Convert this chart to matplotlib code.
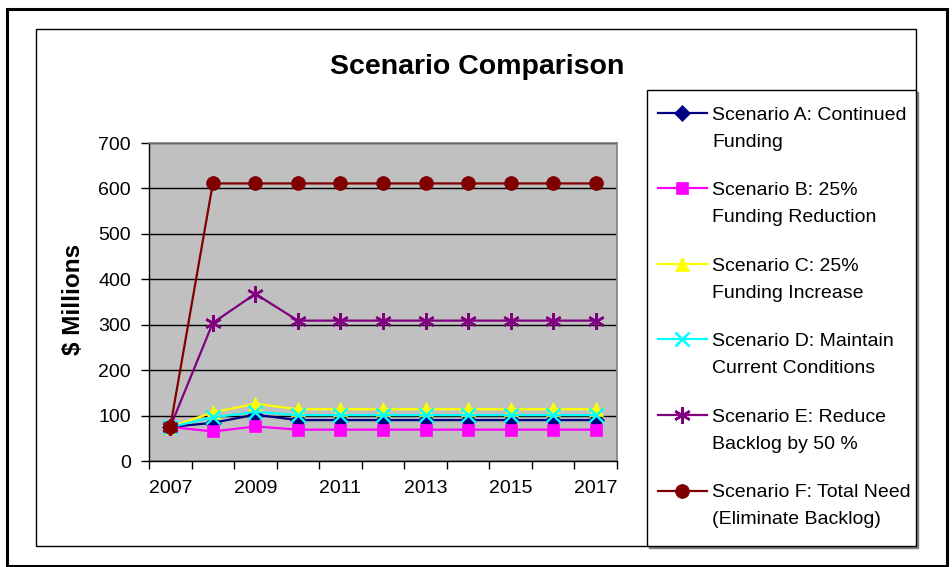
import matplotlib
matplotlib.use("Agg")
import matplotlib.pyplot as plt
from matplotlib.patches import Rectangle
import numpy as np

plt.rcParams['font.family'] = ['Liberation Sans', 'DejaVu Sans']

years = [2007, 2008, 2009, 2010, 2011, 2012, 2013, 2014, 2015, 2016, 2017]
scenario_a = [75, 84, 102, 90, 90, 90, 90, 90, 90, 90, 90]
scenario_b = [75, 65, 76, 69, 69, 69, 69, 69, 69, 69, 69]
scenario_c = [75, 107, 126, 114, 114, 114, 114, 114, 114, 114, 114]
scenario_d = [75, 96, 108, 101, 101, 101, 101, 101, 101, 101, 101]
scenario_e = [75, 304, 368, 309, 309, 309, 309, 309, 309, 309, 309]
scenario_f = [75, 611, 611, 611, 611, 611, 611, 611, 611, 611, 611]
labels = [
    "Scenario A: Continued\nFunding",
    "Scenario B: 25%\nFunding Reduction",
    "Scenario C: 25%\nFunding Increase",
    "Scenario D: Maintain\nCurrent Conditions",
    "Scenario E: Reduce\nBacklog by 50 %",
    "Scenario F: Total Need\n(Eliminate Backlog)",
]
title = "Scenario Comparison"
ylabel = "$ Millions"

W, H = 952, 567
fig = plt.figure(figsize=(W / 100, H / 100), dpi=100)

def fx(px):
    return px / W

def fy(py):
    return 1 - py / H

# frames
fig.add_artist(Rectangle((fx(7), fy(566)), fx(947) - fx(7), fy(9) - fy(566),
                         transform=fig.transFigure, fill=False, ec='black', lw=2.2))
fig.add_artist(Rectangle((fx(36), fy(546)), fx(916) - fx(36), fy(29) - fy(546),
                         transform=fig.transFigure, fill=False, ec='black', lw=1.0))

ax = fig.add_axes([fx(149), fy(461), fx(617) - fx(149), fy(143) - fy(461)])
ax.set_facecolor('#C0C0C0')

x = np.arange(len(years))
series = [
    (scenario_a, '#000080', 'D', 8, 'none'),
    (scenario_b, '#FF00FF', 's', 9, 'none'),
    (scenario_c, '#FFFF00', '^', 10, 'none'),
    (scenario_d, '#00FFFF', 'x', 10, None),
    (scenario_e, '#800080', (6, 2, 0), 12, None),
    (scenario_f, '#800000', 'o', 10, 'none'),
]
handles = []
for (vals, col, mk, ms, mec), lab in zip(series, labels):
    kw = dict(color=col, marker=mk, markersize=ms, lw=1.6, label=lab, zorder=3)
    if mec == 'none':
        kw['markeredgecolor'] = col
        kw['markeredgewidth'] = 0.5
    else:
        kw['markeredgewidth'] = 1.8
    h, = ax.plot(x, vals, **kw)
    h.set_clip_on(False)
    handles.append(h)

ax.set_xlim(-0.5, len(years) - 0.5)
ax.set_ylim(0, 700)
ax.set_yticks(range(0, 701, 100))
ax.yaxis.grid(True, color='black', lw=1.0)
ax.set_axisbelow(True)
ax.set_xticks(x[::2])
ax.set_xticklabels([str(y) for y in years[::2]])
ax.set_xticks(np.arange(-0.5, len(years), 1.0), minor=True)
ax.tick_params(axis='x', which='major', length=0, pad=14, labelsize=14)
ax.tick_params(axis='x', which='minor', length=6, width=1, direction='out')
ax.tick_params(axis='y', length=6, width=1, direction='out', pad=7, labelsize=14)
for s in ['top', 'right']:
    ax.spines[s].set_color('#808080')
    ax.spines[s].set_linewidth(1.2)
for s in ['left', 'bottom']:
    ax.spines[s].set_color('black')
    ax.spines[s].set_linewidth(1.0)

fig.text(fx(477), fy(67), title, ha='center', va='center', fontsize=20.5, fontweight='bold')
fig.text(fx(74), fy(299), ylabel, ha='center', va='center', fontsize=17.5,
         fontweight='bold', rotation=90)

# legend box
fig.add_artist(Rectangle((fx(649), fy(548)), fx(918) - fx(649), fy(92) - fy(548),
                         transform=fig.transFigure, fc='#808080', ec='#808080', lw=1.0))
fig.add_artist(Rectangle((fx(647), fy(546)), fx(916) - fx(647), fy(90) - fy(546),
                         transform=fig.transFigure, fc='white', ec='black', lw=1.0))
first_lines = [l.split("\n")[0] for l in labels]
second_lines = [l.split("\n")[1] for l in labels]
leg = fig.legend(handles=handles, labels=first_lines, loc='upper left',
                 bbox_to_anchor=(fx(658), fy(106)), frameon=False,
                 fontsize=14, handlelength=2.5, handletextpad=0.3,
                 labelspacing=2.98, borderpad=0, borderaxespad=0)

fig.canvas.draw()
for t, second in zip(leg.get_texts(), second_lines):
    px, py = t.get_transform().transform(t.get_position())
    fig.text(px / W, (py - 27) / H, second, ha='left', va='baseline', fontsize=14)

fig.savefig('out.png', dpi=100)
